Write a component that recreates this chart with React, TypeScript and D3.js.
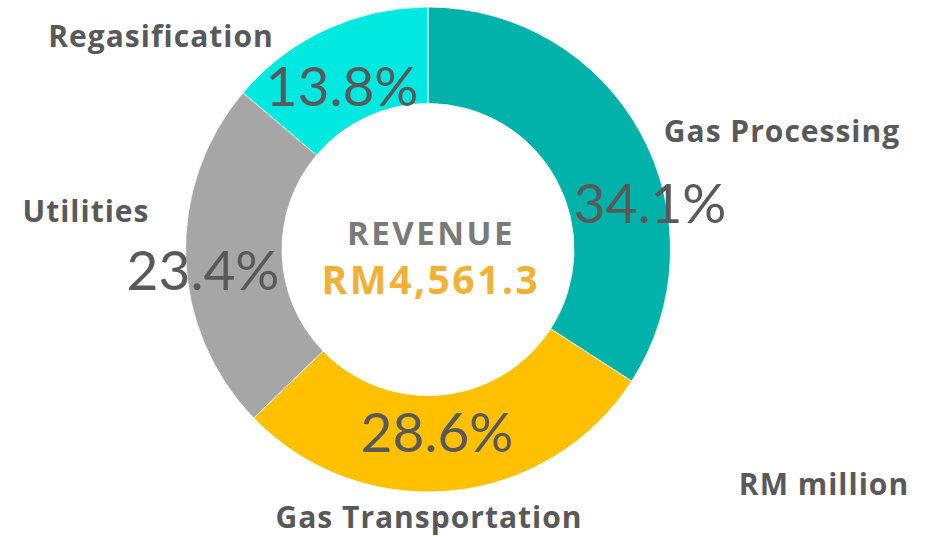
import React from "react";
import * as d3 from "d3";

const categories = ["Gas Processing", "Gas Transportation", "Utilities", "Regasification"];
const shares = [34.1, 28.6, 23.4, 13.8];
const colors = ["#00B2A9", "#FFC000", "#A6A6A6", "#00E8E0"];
const centerTitle = "REVENUE";
const centerValue = "RM4,561.3";
const unitNote = "RM million";

// label layout (text positions only)
const nameLayout = [
  { x: 782, y: 142 },
  { x: 429, y: 528 },
  { x: 86, y: 222 },
  { x: 161, y: 47 },
];
const pctLayout = [
  { x: 650, y: 223 },
  { x: 437, y: 452 },
  { x: 203, y: 290 },
  { x: 342, y: 106 },
];

const W = 927;
const H = 537;
const cx = 428;
const cy = 249.5;
const outerR = 242.5;
const innerR = 146;

export default function App() {
  const data = categories.map((c, i) => ({ name: c, value: shares[i], color: colors[i] }));
  const pie = d3
    .pie<any>()
    .sort(null)
    .value((d: any) => d.value)
    .startAngle(0)
    .endAngle(2 * Math.PI);
  const arcs = pie(data);
  const arc = d3.arc<any>().innerRadius(innerR).outerRadius(outerR);
  const fmt = d3.format(".1f");
  const textColor = "#595959";
  const boldFont = "'Open Sans', sans-serif";

  return (
    <svg
      width={W}
      height={H}
      style={{ position: "absolute", left: 0, top: 0, background: "#fff" }}
    >
      <g transform={`translate(${cx},${cy})`}>
        {arcs.map((a, i) => (
          <path key={i} d={arc(a) as string} fill={a.data.color} stroke="#ffffff" strokeWidth={0.8} />
        ))}
      </g>
      {data.map((d, i) => (
        <text
          key={"n" + i}
          x={nameLayout[i].x}
          y={nameLayout[i].y}
          textAnchor="middle"
          fontFamily={boldFont}
          fontWeight={700}
          fontSize={30}
          letterSpacing={1}
          fill={textColor}
          style={{ fontVariantLigatures: "none" }}
        >
          {d.name}
        </text>
      ))}
      {data.map((d, i) => (
        <text
          key={"p" + i}
          x={pctLayout[i].x}
          y={pctLayout[i].y}
          textAnchor="middle"
          fontFamily="Lato, sans-serif"
          fontWeight={400}
          fontSize={55}
          fill={textColor}
        >
          {fmt(d.value) + "%"}
        </text>
      ))}
      <text
        x={431}
        y={245}
        textAnchor="middle"
        fontFamily={boldFont}
        fontWeight={700}
        fontSize={33}
        fill="#7A7A7A"
        letterSpacing={2.5}
      >
        {centerTitle}
      </text>
      <text
        x={431}
        y={294}
        textAnchor="middle"
        fontFamily={boldFont}
        fontWeight={700}
        fontSize={39}
        fill="#F2B134"
        letterSpacing={2.5}
      >
        {centerValue}
      </text>
      <text
        x={824}
        y={495}
        textAnchor="middle"
        fontFamily={boldFont}
        fontWeight={700}
        fontSize={30}
        letterSpacing={1}
        fill={textColor}
      >
        {unitNote}
      </text>
    </svg>
  );
}
